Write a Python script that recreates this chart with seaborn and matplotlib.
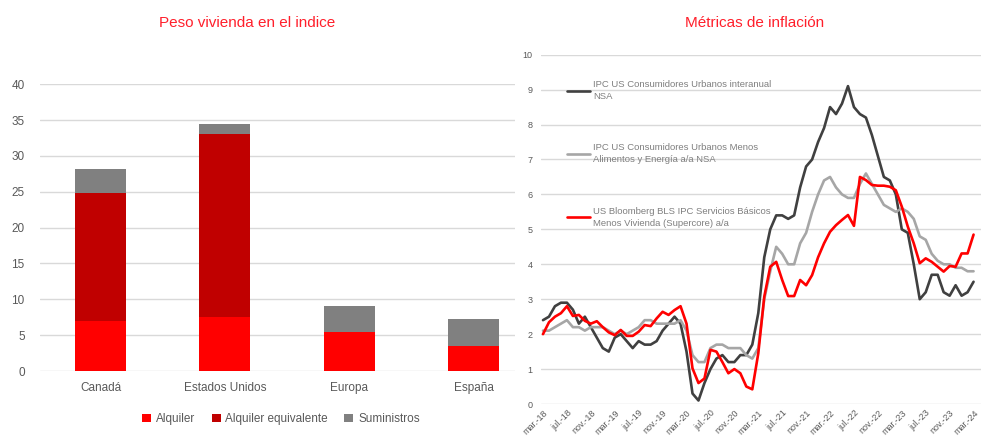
import matplotlib
matplotlib.use("Agg")
import matplotlib.pyplot as plt
import seaborn as sns
import pandas as pd
import numpy as np
from matplotlib.patches import Patch
from matplotlib.lines import Line2D

# ---------------- data ----------------
countries = ["Canadá", "Estados Unidos", "Europa", "España"]
alquiler = [7.0, 7.6, 5.5, 3.5]
alquiler_equiv = [17.9, 25.5, 0.0, 0.0]
suministros = [3.3, 1.3, 3.6, 3.7]

months_start = "2018-03"
n_months = 73
cpi = [2.4, 2.5, 2.8, 2.9, 2.9, 2.7, 2.3, 2.5, 2.2, 1.9,
       1.6, 1.5, 1.9, 2.0, 1.8, 1.6, 1.8, 1.7, 1.7, 1.8, 2.1, 2.3,
       2.5, 2.3, 1.5, 0.3, 0.1, 0.6, 1.0, 1.3, 1.4, 1.2, 1.2, 1.4,
       1.4, 1.7, 2.6, 4.2, 5.0, 5.4, 5.4, 5.3, 5.4, 6.2, 6.8, 7.0,
       7.5, 7.9, 8.5, 8.3, 8.6, 9.1, 8.5, 8.3, 8.2, 7.7, 7.1, 6.5,
       6.4, 6.0, 5.0, 4.9, 4.0, 3.0, 3.2, 3.7, 3.7, 3.2, 3.1, 3.4,
       3.1, 3.2, 3.5]
core = [2.1, 2.1, 2.2, 2.3, 2.4, 2.2, 2.2, 2.1, 2.2, 2.2,
        2.2, 2.1, 2.0, 2.1, 2.0, 2.1, 2.2, 2.4, 2.4, 2.3, 2.3, 2.3,
        2.3, 2.4, 2.1, 1.4, 1.2, 1.2, 1.6, 1.7, 1.7, 1.6, 1.6, 1.6,
        1.4, 1.3, 1.6, 3.0, 3.8, 4.5, 4.3, 4.0, 4.0, 4.6, 4.9, 5.5,
        6.0, 6.4, 6.5, 6.2, 6.0, 5.9, 5.9, 6.3, 6.6, 6.3, 6.0, 5.7,
        5.6, 5.5, 5.6, 5.5, 5.3, 4.8, 4.7, 4.3, 4.1, 4.0, 4.0, 3.9,
        3.9, 3.8, 3.8]
supercore = [2.0, 2.34, 2.5, 2.6, 2.8, 2.52, 2.55, 2.38, 2.3, 2.37,
             2.2, 2.05, 1.97, 2.12, 1.95, 1.95, 2.07, 2.26, 2.23, 2.45, 2.64, 2.55,
             2.69, 2.8, 2.3, 1.02, 0.6, 0.73, 1.55, 1.5, 1.2, 0.88, 1.0, 0.88,
             0.5, 0.42, 1.45, 3.07, 3.93, 4.07, 3.55, 3.09, 3.09, 3.55, 3.4, 3.69,
             4.2, 4.6, 4.93, 5.12, 5.27, 5.41, 5.1, 6.5, 6.41, 6.27, 6.25, 6.25,
             6.22, 6.12, 5.65, 5.08, 4.6, 4.03, 4.17, 4.07, 3.93, 3.79, 3.95, 3.93,
             4.31, 4.31, 4.85]

series_labels = ["IPC US Consumidores Urbanos interanual\nNSA",
                 "IPC US Consumidores Urbanos Menos\nAlimentos y Energía a/a NSA",
                 "US Bloomberg BLS IPC Servicios Básicos\nMenos Vivienda (Supercore) a/a"]
bar_labels = ["Alquiler", "Alquiler equivalente", "Suministros"]
titles = ["Peso vivienda en el indice", "Métricas de inflación"]
month_abbr = ["ene", "feb", "mar", "abr", "may", "jun", "jul", "ago", "sep", "oct", "nov", "dic"]

# ---------------- style ----------------
sns.set_style("white")
plt.rcParams["font.family"] = ["Liberation Sans", "DejaVu Sans"]

C_ALQ = "#FF0000"
C_EQ = "#C00000"
C_SUM = "#808080"
C_TXT = "#595959"
C_GRID = "#D9D9D9"
C_TITLE = "#FF1F2B"

fig = plt.figure(figsize=(9.81, 4.40), dpi=100)

# ---------------- left: stacked bars ----------------
ax1 = fig.add_axes([40 / 981, 1 - 371 / 440, (515 - 40) / 981, (371 - 84.3) / 440])
df = pd.DataFrame({"pais": countries, "alq": alquiler, "eq": alquiler_equiv, "sum": suministros})
df["l1"] = df["alq"]
df["l2"] = df["alq"] + df["eq"]
df["l3"] = df["alq"] + df["eq"] + df["sum"]
bw = 0.41
for col, c, z in [("l3", C_SUM, 2), ("l2", C_EQ, 3), ("l1", C_ALQ, 4)]:
    sns.barplot(data=df, x="pais", y=col, color=c, saturation=1, width=bw, ax=ax1,
                zorder=z, linewidth=0, edgecolor="none")
ax1.set_ylim(0, 40)
ax1.set_xlim(-0.486, 3.33)
ax1.set_yticks(range(0, 41, 5))
ax1.set_xlabel("")
ax1.set_ylabel("")
ax1.yaxis.grid(True, color=C_GRID, linewidth=1.0, zorder=0)
ax1.set_axisbelow(True)
for s in ax1.spines.values():
    s.set_visible(False)
ax1.tick_params(axis="y", length=0, pad=11, labelsize=8.5, labelcolor=C_TXT)
ax1.tick_params(axis="x", length=0, pad=8, labelsize=8.5, labelcolor=C_TXT)

handles = [Patch(facecolor=C_ALQ, edgecolor="none"),
           Patch(facecolor=C_EQ, edgecolor="none"),
           Patch(facecolor=C_SUM, edgecolor="none")]
leg1 = fig.legend(handles, bar_labels, loc="center", bbox_to_anchor=(281 / 981, 1 - 419 / 440),
                  ncol=3, frameon=False, fontsize=8.5, handlelength=0.75, handleheight=0.75,
                  handletextpad=0.4, columnspacing=1.4)
for t in leg1.get_texts():
    t.set_color(C_TXT)

fig.text(247 / 981, 1 - 23 / 440, titles[0], ha="center", va="center", color=C_TITLE,
         fontsize=11)

# ---------------- right: lines ----------------
px0 = 543.0          # pixel of first month
ppm = 5.98           # pixels per month
x0 = (541 - px0) / ppm
x1 = (981 - px0) / ppm
ax2 = fig.add_axes([541 / 981, 1 - 404 / 440, (981 - 541) / 981, (404 - 54.7) / 440])
idx = np.arange(n_months)
dates = pd.period_range(months_start, periods=n_months, freq="M")
ldf = pd.DataFrame({"i": idx, "cpi": cpi, "core": core, "super": supercore})
sns.lineplot(data=ldf, x="i", y="cpi", color="#404040", linewidth=1.9, ax=ax2, zorder=3)
sns.lineplot(data=ldf, x="i", y="core", color="#A6A6A6", linewidth=1.9, ax=ax2, zorder=3)
sns.lineplot(data=ldf, x="i", y="super", color="#FF0000", linewidth=1.9, ax=ax2, zorder=4)
ax2.set_xlim(x0, x1)
ax2.set_ylim(0, 10)
ax2.set_yticks(range(0, 11))
tick_idx = idx[::4]
ax2.set_xticks(tick_idx)
ax2.set_xticklabels([f"{month_abbr[dates[i].month - 1]}.-{dates[i].year % 100:02d}" for i in tick_idx])
ax2.set_xlabel("")
ax2.set_ylabel("")
ax2.yaxis.grid(True, color=C_GRID, linewidth=1.0, zorder=0)
ax2.set_axisbelow(True)
for s in ax2.spines.values():
    s.set_visible(False)
ax2.tick_params(axis="y", length=0, pad=6, labelsize=6.5, labelcolor=C_TXT)
ax2.tick_params(axis="x", length=0, pad=3, labelsize=6.5, labelcolor=C_TXT)
for lab in ax2.get_xticklabels():
    lab.set_rotation(45)
    lab.set_ha("right")
    lab.set_rotation_mode("anchor")

lh = [Line2D([], [], color="#404040", linewidth=1.9),
      Line2D([], [], color="#A6A6A6", linewidth=1.9),
      Line2D([], [], color="#FF0000", linewidth=1.9)]
leg2 = ax2.legend(lh, series_labels, loc="upper left", bbox_to_anchor=(0.05, 0.938),
                  frameon=False, fontsize=6.8, handlelength=2.5, handletextpad=0.3,
                  labelspacing=4.5, borderaxespad=0)
for t in leg2.get_texts():
    t.set_color("#7F7F7F")
    t.set_linespacing(1.4)

fig.text(755 / 981, 1 - 23 / 440, titles[1], ha="center", va="center", color=C_TITLE,
         fontsize=11)

fig.savefig("out.png", dpi=100, facecolor="white")
